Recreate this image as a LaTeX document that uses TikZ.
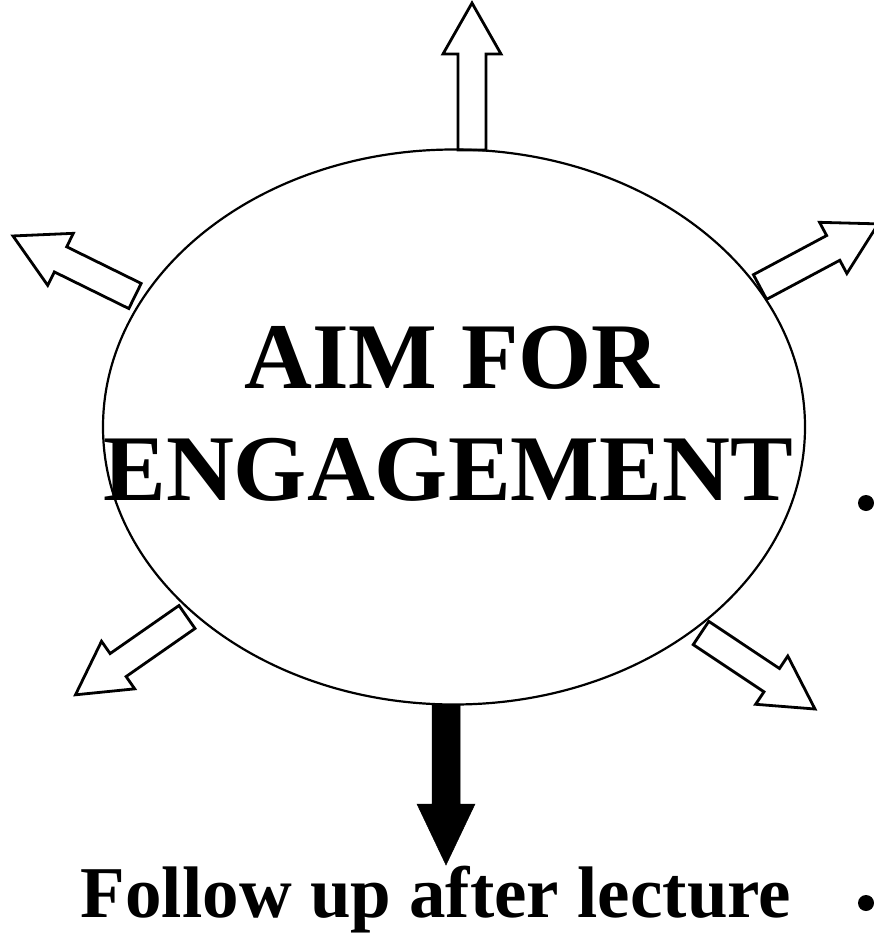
\documentclass[tikz,border=0pt]{standalone}
\usepackage{fontspec}
\setmainfont{Liberation Serif}
\usetikzlibrary{shapes.geometric}

% block arrow: style, base point, angle, length, head length
\newcommand\fatarrow[5]{%
  \begin{scope}[shift={#2},rotate=#3]
    \draw[#1] (0,-14)--({#4-#5},-14)--({#4-#5},-29)--(#4,0)
      --({#4-#5},29)--({#4-#5},14)--(0,14)--cycle;
  \end{scope}}

\begin{document}
\begin{tikzpicture}[x=1pt,y=-1pt,
  openarrow/.style={line width=2.8pt,line join=miter},
  fullarrow/.style={fill=black,line width=0.5pt},
  bigtext/.style={font=\fontsize{94}{112}\selectfont\bfseries,anchor=base,inner sep=0pt}]
  \useasboundingbox (0,0) rectangle (873,934);
  \node[draw,ellipse,line width=2.2pt,minimum width=702pt,minimum height=555pt,inner sep=0pt]
    (hub) at (454,427) {};
  \node[bigtext] (aim) at (452,388) {AIM FOR};
  \node[bigtext] (engage) at (448,500) {ENGAGEMENT};
  % arrows out of the hub
  \fatarrow{openarrow}{(472,150)}{90}{147}{51}
  \fatarrow{openarrow}{(135,296)}{153.8}{136}{53}
  \fatarrow{openarrow}{(760,287)}{28.1}{134}{51}
  \fatarrow{openarrow}{(187,617)}{214.9}{136}{52}
  \fatarrow{openarrow}{(701,633)}{-33.7}{137}{52}
  \fatarrow{fullarrow}{(446,705)}{-90}{160}{61}
  \node[bigtext,font=\fontsize{73}{88}\selectfont\bfseries] (follow) at (436,917)
    {Follow up after lecture};
  \fill (866,503) circle[radius=8pt];
  \fill (866,903) circle[radius=8pt];
\end{tikzpicture}
\end{document}
